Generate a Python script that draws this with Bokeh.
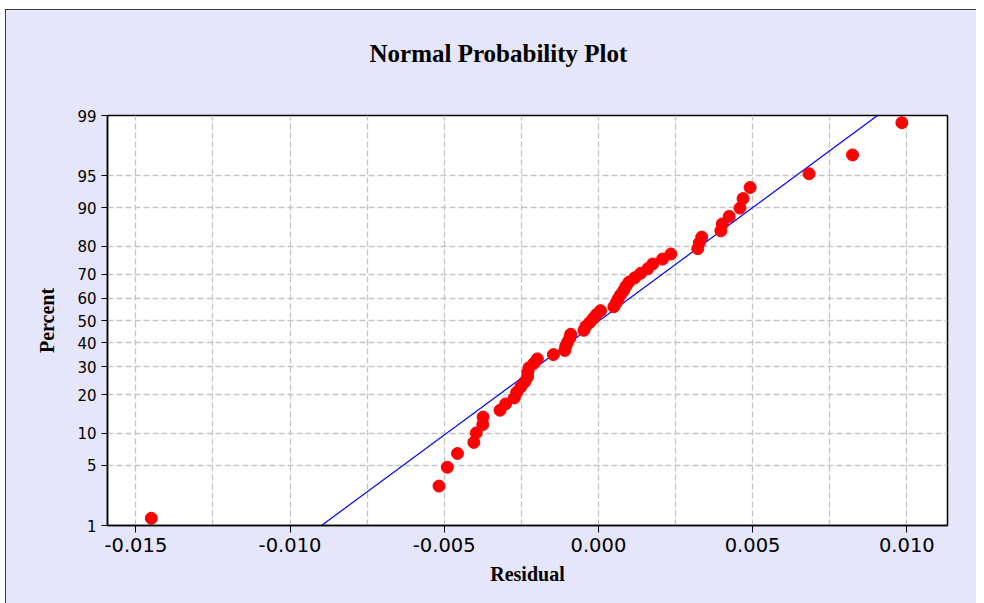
from statistics import NormalDist
from bokeh.plotting import figure
from bokeh.models import Range1d, FixedTicker, ColumnDataSource, LinearAxis
from bokeh.embed import file_html
from bokeh.resources import INLINE

# ---- data ----
residual = [-0.01450, -0.00517, -0.00490, -0.00457, -0.00404, -0.00396, -0.00375, -0.00374,
            -0.00319, -0.00301, -0.00273, -0.00265, -0.00252, -0.00239, -0.00230, -0.00229,
            -0.00225, -0.00209, -0.00198, -0.00146, -0.00109, -0.00106, -0.00100, -0.00093,
            -0.00090, -0.00047, -0.00041, -0.00028, -0.00017, -0.00007, 0.00007, 0.00050,
            0.00058, 0.00064, 0.00072, 0.00082, 0.00089, 0.00099, 0.00118, 0.00137,
            0.00160, 0.00176, 0.00208, 0.00235, 0.00322, 0.00327, 0.00335, 0.00397,
            0.00402, 0.00424, 0.00459, 0.00469, 0.00492, 0.00683, 0.00824, 0.00984]
percent = [1.24, 3.01, 4.79, 6.56, 8.33, 10.11, 11.88, 13.65, 15.43, 17.20, 18.97, 20.74,
           22.52, 24.29, 26.06, 27.84, 29.61, 31.38, 33.16, 34.93, 36.70, 38.48, 40.25, 42.02,
           43.79, 45.57, 47.34, 49.11, 50.89, 52.66, 54.43, 56.21, 57.98, 59.75, 61.52, 63.30,
           65.07, 66.84, 68.62, 70.39, 72.16, 73.94, 75.71, 77.48, 79.26, 81.03, 82.80, 84.57,
           86.35, 88.12, 89.89, 91.67, 93.44, 95.21, 96.99, 98.76]
fit_residual = [-0.00898, 0.00905]
fit_percent = [1, 99]
y_tick_percent = [1, 5, 10, 20, 30, 40, 50, 60, 70, 80, 90, 95, 99]
x_tick_values = [-0.015, -0.010, -0.005, 0.000, 0.005, 0.010]
x_tick_labels = ["-0.015", "-0.010", "-0.005", "0.000", "0.005", "0.010"]
x_grid_values = [-0.015, -0.0125, -0.010, -0.0075, -0.005, -0.0025, 0.0, 0.0025, 0.005, 0.0075, 0.010]
title_text = "Normal Probability Plot"

nd = NormalDist()
def probit(pc):
    return nd.inv_cdf(pc / 100.0)

z_points = [probit(v) for v in percent]
z_fit = [probit(v) for v in fit_percent]
z_ticks = [probit(v) for v in y_tick_percent]

LAV = "#E6E6FA"
p = figure(width=971, height=594, output_backend="svg", toolbar_location=None, title=title_text,
           x_range=Range1d(-0.01592, 0.01132), y_range=Range1d(probit(1), probit(99)),
           background_fill_color="white", border_fill_color=LAV,
           min_border_left=102, min_border_top=106, min_border_right=29, min_border_bottom=78)
p.margin = (9, 0, 0, 5)
p.styles = {"outline": "1px solid #000000", "outline-offset": "-1px"}

p.title.text_font = "Liberation Serif"
p.title.text_font_size = "25px"
p.title.text_font_style = "bold"
p.title.text_color = "black"
p.title.align = "left"
p.title.offset = 262
p.title.standoff = 10

# invisible axis above the frame acting as a spacer between the title and the frame
spacer = LinearAxis(axis_line_color=None, major_tick_line_color=None, minor_tick_line_color=None,
                    major_tick_out=0, major_tick_in=0, minor_tick_out=0, minor_tick_in=0,
                    major_label_text_font_size="1px", major_label_text_alpha=0.0,
                    major_label_standoff=0, axis_label=".", axis_label_text_font_size="1px",
                    axis_label_text_alpha=0.0, axis_label_standoff=40)
p.add_layout(spacer, "above")

p.outline_line_color = "black"
p.outline_line_width = 1.5

# axes
xa = p.below[0]
xa.ticker = FixedTicker(ticks=x_tick_values)
xa.major_label_overrides = {v: s for v, s in zip(x_tick_values, x_tick_labels)}
xa.minor_tick_line_color = None
xa.major_tick_out = 7
xa.major_tick_in = 0
xa.major_label_text_font = "DejaVu Sans"
xa.major_label_text_font_size = "19.5px"
xa.major_label_text_color = "black"
xa.major_label_standoff = 5
xa.axis_label = "Residual"
xa.axis_label_text_font = "Liberation Serif"
xa.axis_label_text_font_style = "bold"
xa.axis_label_text_font_size = "20px"
xa.axis_label_text_color = "black"
xa.axis_label_standoff = 8
xa.axis_line_color = "black"
xa.axis_line_width = 1.5

ya = p.left[0]
ya.ticker = FixedTicker(ticks=z_ticks)
ya.major_label_overrides = {z: str(v) for z, v in zip(z_ticks, y_tick_percent)}
ya.minor_tick_line_color = None
ya.major_tick_out = 6
ya.major_tick_in = 0
ya.major_label_text_font = "DejaVu Sans"
ya.major_label_text_font_size = "15px"
ya.major_label_text_color = "black"
ya.axis_label = "Percent"
ya.axis_label_text_font = "Liberation Serif"
ya.axis_label_text_font_style = "bold"
ya.axis_label_text_font_size = "20px"
ya.axis_label_text_color = "black"
ya.axis_label_standoff = 16
ya.axis_line_color = "black"
ya.axis_line_width = 1.5

# grids
p.xgrid.ticker = FixedTicker(ticks=x_grid_values)
p.ygrid.ticker = FixedTicker(ticks=z_ticks[1:-1])
for g in (p.xgrid, p.ygrid):
    g.grid_line_color = "#C4C4C4"
    g.grid_line_dash = "6 3"
    g.grid_line_width = 1.3

p.line(fit_residual, z_fit, line_color="#0000FF", line_width=1.2)
src = ColumnDataSource(data=dict(x=residual, y=z_points))
p.scatter("x", "y", source=src, size=12, fill_color="#FF0000", line_color="#FF0000")

open("out.html", "w").write(file_html(p, INLINE))
